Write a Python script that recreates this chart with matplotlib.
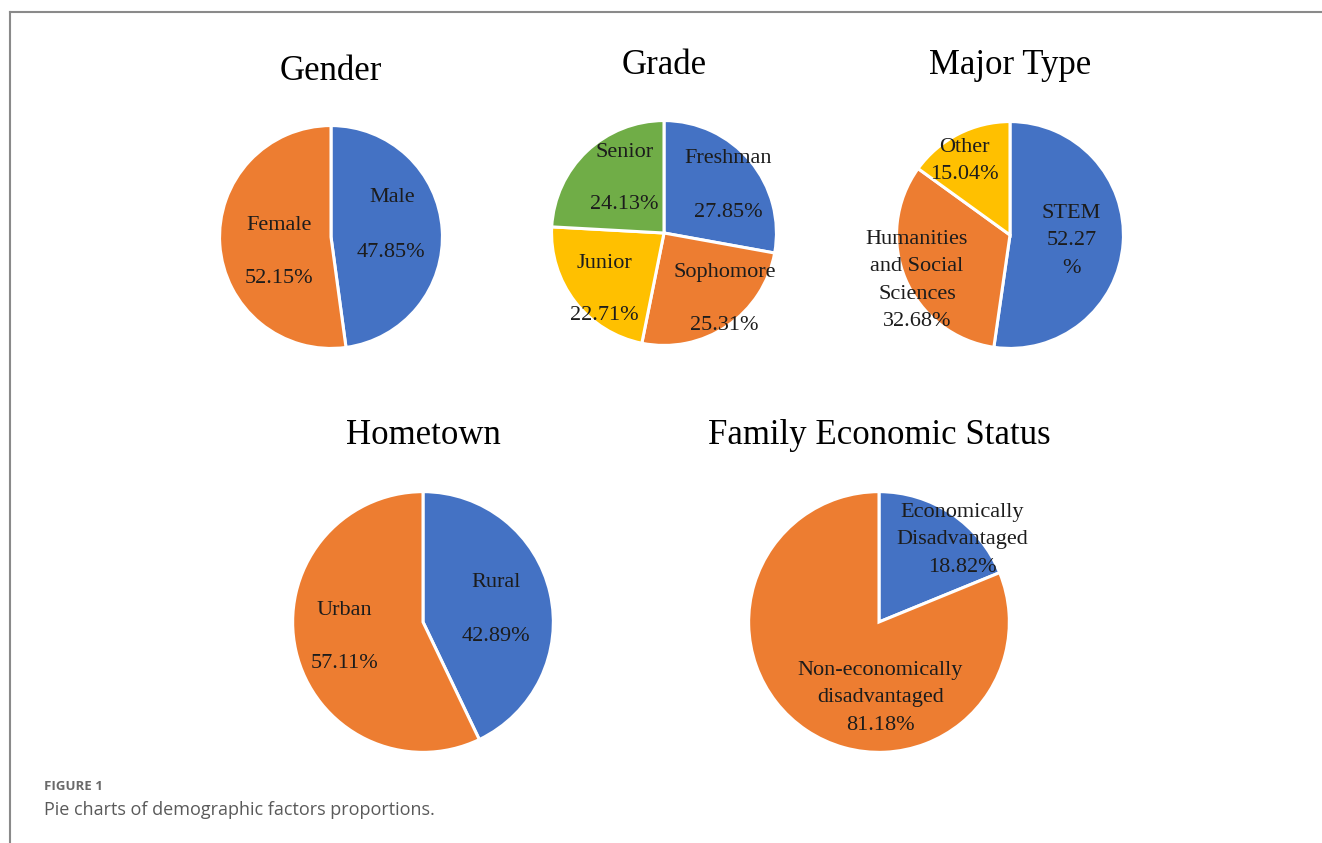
import matplotlib
matplotlib.use("Agg")
import matplotlib.pyplot as plt
from matplotlib.lines import Line2D

W, H = 1322, 843
DPI = 100

BLUE = "#4472C4"
ORANGE = "#ED7D31"
YELLOW = "#FFC000"
GREEN = "#70AD47"

# ---- data ----
gender_labels = ["Male", "Female"]
gender_values = [47.85, 52.15]

grade_labels = ["Freshman", "Sophomore", "Junior", "Senior"]
grade_values = [27.85, 25.31, 22.71, 24.13]

major_labels = ["STEM", "Humanities and Social Sciences", "Other"]
major_values = [52.27, 32.68, 15.04]

hometown_labels = ["Rural", "Urban"]
hometown_values = [42.89, 57.11]

econ_labels = ["Economically Disadvantaged", "Non-economically disadvantaged"]
econ_values = [18.82, 81.18]

fig = plt.figure(figsize=(W / DPI, H / DPI), dpi=DPI)
fig.patch.set_facecolor("white")

SERIF = "Liberation Serif"
TXT = "#1c1c1c"
LBL_SIZE = 16
TITLE_SIZE = 25
LIM = 1.005


def make_ax(cx, cy, r):
    ax = fig.add_axes([(cx - r) / W, 1 - (cy + r) / H, 2 * r / W, 2 * r / H])
    ax.set_aspect("equal")
    ax.axis("off")
    return ax


def draw_pie(cx, cy, r, values, colors, texts, title, title_y):
    ax = make_ax(cx, cy, r)
    wedges, _ = ax.pie(values, colors=colors, startangle=90, counterclock=False,
                       radius=1.0, wedgeprops=dict(edgecolor="white", linewidth=2.2))
    for w in wedges:
        w.set_clip_on(False)
    ax.set_xlim(-LIM, LIM)
    ax.set_ylim(-LIM, LIM)
    for (s, x, y) in texts:
        ax.text(x, y, s, ha="center", va="center", fontsize=LBL_SIZE,
                family=SERIF, color=TXT, linespacing=1.6)
    fig.text(cx / W, 1 - title_y / H, title, ha="center", va="center",
             fontsize=TITLE_SIZE, family=SERIF, color="black")


draw_pie(331, 237, 112, gender_values, [BLUE, ORANGE],
         [("Male", 0.55, 0.35), (f"{gender_values[0]:.2f}%", 0.54, -0.14),
          ("Female", -0.47, 0.10), (f"{gender_values[1]:.2f}%", -0.47, -0.375)],
         "Gender", 71)

draw_pie(664, 233, 113, grade_values, [BLUE, ORANGE, YELLOW, GREEN],
         [("Freshman", 0.57, 0.66), (f"{grade_values[0]:.2f}%", 0.57, 0.18),
          ("Sophomore", 0.54, -0.35), (f"{grade_values[1]:.2f}%", 0.54, -0.82),
          ("Junior", -0.53, -0.27), (f"{grade_values[2]:.2f}%", -0.53, -0.73),
          ("Senior", -0.35, 0.72), (f"{grade_values[3]:.2f}%", -0.35, 0.25)],
         "Grade", 66)

draw_pie(1010, 235, 114, major_values, [BLUE, ORANGE, YELLOW],
         [(f"STEM\n{major_values[0]:.2f}\n%", 0.54, -0.05),
          (f"Humanities\nand Social\nSciences\n{major_values[1]:.2f}%", -0.82, -0.40),
          (f"Other\n{major_values[2]:.2f}%", -0.40, 0.655)],
         "Major Type", 66)

draw_pie(423, 622, 131, hometown_values, [BLUE, ORANGE],
         [("Rural", 0.56, 0.30), (f"{hometown_values[0]:.2f}%", 0.56, -0.11),
          ("Urban", -0.60, 0.09), (f"{hometown_values[1]:.2f}%", -0.60, -0.32)],
         "Hometown", 436)

draw_pie(879, 622, 131, econ_values, [BLUE, ORANGE],
         [(f"Economically\nDisadvantaged\n{econ_values[0]:.2f}%", 0.64, 0.63),
          (f"Non-economically\ndisadvantaged\n{econ_values[1]:.2f}%", 0.01, -0.58)],
         "Family Economic Status", 436)

# frame lines
fig.add_artist(Line2D([9.5 / W, 1.0], [1 - 11.5 / H, 1 - 11.5 / H],
                      transform=fig.transFigure, color="#8a8a8a", linewidth=1.5))
fig.add_artist(Line2D([9.5 / W, 9.5 / W], [1 - 11.5 / H, 0.0],
                      transform=fig.transFigure, color="#8a8a8a", linewidth=1.5))

# caption
fig.text(44 / W, 1 - 787 / H, "FIGURE 1", ha="left", va="center",
         fontsize=9.5, family="Open Sans", fontweight="bold", color="#6a6a6a")
fig.text(44 / W, 1 - 810 / H, "Pie charts of demographic factors proportions.",
         ha="left", va="center", fontsize=13, family="Open Sans", color="#5a5a5a")

fig.savefig("out.png", dpi=DPI, facecolor="white")
